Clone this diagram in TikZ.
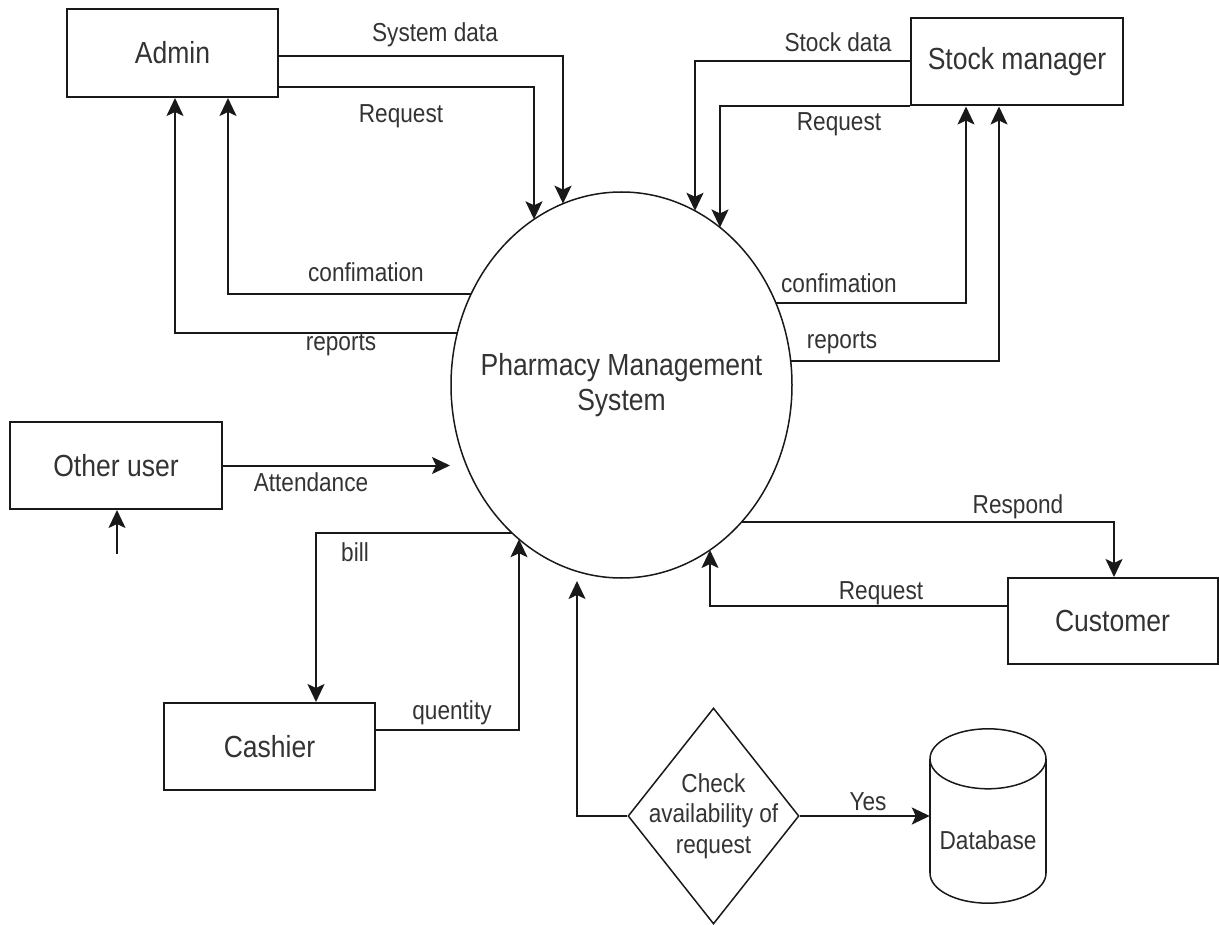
\documentclass[tikz,border=0pt]{standalone}
\usepackage{fontspec}
\setmainfont{Liberation Sans}[FakeStretch=0.87]
\usetikzlibrary{arrows.meta,shapes.geometric,intersections}

\begin{document}
\begin{tikzpicture}[x=1pt,y=-1pt,
  bigtxt/.style={font=\fontsize{30.5}{35}\selectfont},
  smalltxt/.style={font=\fontsize{26}{30.5}\selectfont},
  entity/.style={draw=black!90, line width=2pt, inner sep=0pt, bigtxt, text=black!80},
  flow/.style={draw=black!90, line width=2pt, -{Stealth[length=18pt,width=17pt,inset=4pt]}},
  lbl/.style={smalltxt, text=black!80, inner sep=0pt},
]
\useasboundingbox (0,0) rectangle (1219,925);

% external entities
\node[entity, minimum width=211pt, minimum height=88pt] (admin) at (172.5,53) {Admin};
\node[entity, minimum width=212pt, minimum height=87pt] (stock) at (1017,62) {Stock manager};
\node[entity, minimum width=212pt, minimum height=87pt] (other) at (116,465.5) {Other user};
\node[entity, minimum width=211pt, minimum height=87pt] (cashier) at (269.5,746.5) {Cashier};
\node[entity, minimum width=210pt, minimum height=86pt] (customer) at (1112.5,621) {Customer};

% central process
\node[draw=black!90, ellipse, line width=1.5pt, inner sep=0pt, minimum width=341pt,
      minimum height=386pt, name path=pmsline,
      label={[bigtxt, text=black!80, align=center, inner sep=0pt]center:Pharmacy Management\\System}]
      (pms) at (621.5,385) {};

% decision
\node[draw=black!90, diamond, line width=1.5pt, inner sep=0pt, minimum width=171pt,
      minimum height=216pt,
      label={[lbl, align=center]center:Check\\availability of\\request}]
      (chk) at (713.5,816) {};

% database cylinder
\node[inner sep=0pt, minimum width=116pt, minimum height=174pt] (db) at (988,816) {};
\draw[line width=1.5pt, black!90] ([yshift=30pt]db.south) ellipse [x radius=58pt, y radius=30pt];
\fill[white] ([yshift=-30pt]db.north west) rectangle ([yshift=30pt]db.south east);
\draw[line width=1.5pt, black!90] ([yshift=-30pt]db.north) ellipse [x radius=58pt, y radius=30pt];
\draw[line width=1.5pt, black!90] ([yshift=-30pt]db.north west) -- ([yshift=30pt]db.south west);
\draw[line width=1.5pt, black!90] ([yshift=-30pt]db.north east) -- ([yshift=30pt]db.south east);
\node[lbl] (dbtext) at ([yshift=-24pt]db.center) {Database};

% guide lines where flows meet the process border
\path[name path=vSys]  (563,100) -- (563,385);
\path[name path=vAreq] (534,100) -- (534,385);
\path[name path=hAconf] (300,294) -- (621,294);
\path[name path=hArep]  (300,333) -- (621,333);
\path[name path=vSdat] (695,100) -- (695,385);
\path[name path=vSreq] (720,100) -- (720,385);
\path[name path=hSconf] (621,303) -- (900,303);
\path[name path=hSrep]  (621,361) -- (900,361);
\path[name path=hBill]  (300,533) -- (621,533);
\path[name path=vQty]  (519,700) -- (519,385);
\path[name path=hResp]  (621,522) -- (900,522);
\path[name path=vCreq] (710,600) -- (710,385);

% Admin flows
\draw[flow, name intersections={of=vSys and pmsline, by=eSys}] (admin.east |- 0,56) -| (eSys);
\draw[flow, name intersections={of=vAreq and pmsline, by=eAreq}] (admin.east |- 0,87) -| (eAreq);
\draw[flow, name intersections={of=hAconf and pmsline, by=eAconf}] (eAconf) -| (admin.south -| 228,0);
\draw[flow, name intersections={of=hArep and pmsline, by=eArep}] (eArep) -| (admin.south -| 175,0);

% Stock manager flows
\draw[flow, name intersections={of=vSdat and pmsline, by=eSdat}] (stock.west |- 0,61) -| (eSdat);
\draw[flow, name intersections={of=vSreq and pmsline, by=eSreq}] (stock.south west) -| (eSreq);
\draw[flow, name intersections={of=hSconf and pmsline, by=eSconf}] (eSconf) -| (stock.south -| 966,0);
\draw[flow, name intersections={of=hSrep and pmsline, by=eSrep}] (eSrep) -| (stock.south -| 999,0);

% Other user
\coordinate (attEnd) at (450,465.5);
\draw[flow] (other.east) -- (attEnd);
\coordinate (inStart) at (117,554);
\draw[flow] (inStart) -- (other.south -| inStart);

% Cashier
\draw[flow, name intersections={of=hBill and pmsline, by=eBill}] (eBill) -| (cashier.north -| 316,0);
\draw[flow, name intersections={of=vQty and pmsline, by=eQty}] (cashier.east |- 0,730) -| (eQty);

% Customer
\draw[flow, name intersections={of=hResp and pmsline, by=eResp}] (eResp) -| (customer.north -| 1114,0);
\draw[flow, name intersections={of=vCreq and pmsline, by=eCreq}] (customer.west |- 0,606) -| (eCreq);

% decision flows
\coordinate (chkEnd) at (577,581);
\draw[flow] (chk.west) -| (chkEnd);
\draw[flow] (chk.east) -- (chk.east -| db.west);

% flow labels
\node[lbl] (tSys)   at (435,35)  {System data};
\node[lbl] (tAreq)  at (401,116) {Request};
\node[lbl] (tAconf) at (366,272) {confimation};
\node[lbl] (tArep)  at (341,345) {reports};
\node[lbl] (tSdat)  at (838,42)  {Stock data};
\node[lbl] (tSreq)  at (839,124) {Request};
\node[lbl] (tSconf) at (839,283) {confimation};
\node[lbl] (tSrep)  at (842,343) {reports};
\node[lbl] (tAtt)   at (311,482) {Attendance};
\node[lbl] (tBill)  at (355,552) {bill};
\node[lbl] (tQty)   at (452,713) {quentity};
\node[lbl] (tResp)  at (1018,507) {Respond};
\node[lbl] (tCreq)  at (881,593) {Request};
\node[lbl] (tYes)   at (868,802) {Yes};
\end{tikzpicture}
\end{document}
